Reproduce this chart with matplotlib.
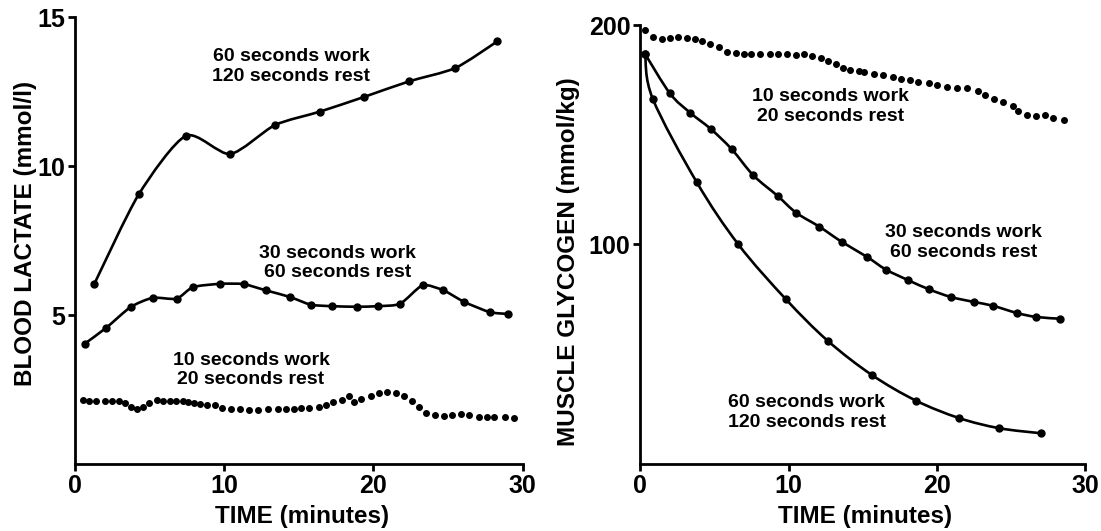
import matplotlib.pyplot as plt
import numpy as np
from matplotlib.path import Path
from matplotlib.patches import PathPatch

plt.rcParams['font.family'] = ['Liberation Sans', 'DejaVu Sans']
plt.rcParams['font.weight'] = 'bold'

# ---- blood lactate (mmol/l) ----
lac60_t = [1.29, 4.27, 7.44, 10.4, 13.4, 16.4, 19.4, 22.4, 25.5, 28.3]
lac60_v = [6.04, 9.05, 11.02, 10.41, 11.38, 11.83, 12.33, 12.85, 13.3, 14.19]

lac30_t = [0.66, 2.11, 3.73, 5.21, 6.81, 7.91, 9.74, 11.3, 12.8, 14.4,
           15.8, 17.2, 18.9, 20.3, 21.8, 23.3, 24.7, 26.1, 27.8, 29.0]
lac30_v = [4.04, 4.58, 5.27, 5.58, 5.55, 5.94, 6.05, 6.04, 5.83, 5.61,
           5.35, 5.30, 5.28, 5.30, 5.38, 6.00, 5.83, 5.44, 5.10, 5.04]

lac10_t = [0.57, 0.94, 1.39, 1.98, 2.47, 2.94, 3.34, 3.74, 4.16, 4.58,
           4.98, 5.50, 5.92, 6.35, 6.75, 7.22, 7.57, 7.97, 8.39, 8.86,
           9.38, 9.85, 10.46, 11.04, 11.68, 12.27, 12.92, 13.63, 14.14, 14.69,
           15.16, 15.67, 16.33, 16.85, 17.32, 17.90, 18.37, 18.73, 19.20, 19.85,
           20.37, 20.91, 21.50, 22.08, 22.60, 23.07, 23.54, 24.13, 24.72, 25.30,
           25.89, 26.43, 27.06, 27.60, 28.12, 28.83, 29.41]
lac10_v = [2.15, 2.13, 2.11, 2.11, 2.13, 2.13, 2.05, 1.91, 1.85, 1.93,
           2.05, 2.15, 2.13, 2.11, 2.11, 2.10, 2.08, 2.05, 2.02, 1.99,
           1.97, 1.89, 1.85, 1.83, 1.82, 1.80, 1.83, 1.85, 1.85, 1.85,
           1.87, 1.89, 1.92, 1.98, 2.07, 2.15, 2.27, 2.09, 2.17, 2.28,
           2.39, 2.41, 2.38, 2.27, 2.11, 1.91, 1.71, 1.63, 1.62, 1.64,
           1.69, 1.63, 1.58, 1.57, 1.57, 1.59, 1.55]

# ---- muscle glycogen (mmol/kg) ----
gly60_t = [0.32, 0.83, 3.8, 6.61, 9.82, 12.62, 15.62, 18.6, 21.5, 24.2, 27.0]
gly60_v = [186.8, 166.5, 128.4, 100.0, 75.0, 56.2, 40.5, 28.8, 20.9, 16.3, 14.0]

gly30_t = [0.32, 2.0, 3.35, 4.77, 6.16, 7.62, 9.26, 10.5, 12.07, 13.58,
           15.27, 16.55, 18.07, 19.49, 20.93, 22.5, 23.76, 25.38, 26.68, 28.26]
gly30_v = [186.8, 168.8, 160.1, 152.5, 143.4, 131.5, 122.1, 114.5, 108.1, 101.2,
           94.4, 88.6, 83.7, 79.5, 76.1, 73.8, 72.1, 68.8, 67.0, 66.2]

gly10_t = [0.32, 0.88, 1.49, 2.0, 2.57, 3.13, 3.69, 4.14, 4.70, 5.33,
           5.82, 6.45, 6.99, 7.44, 8.07, 8.75, 9.31, 9.91, 10.5, 11.04,
           11.56, 12.16, 12.63, 13.2, 13.69, 14.14, 14.71, 15.08, 15.76, 16.39,
           17.0, 17.56, 18.19, 18.75, 19.43, 20.03, 20.66, 21.34, 22.05, 22.73,
           23.24, 23.81, 24.44, 25.11, 25.49, 26.06, 26.68, 27.3, 27.85, 28.57]
gly10_v = [197.7, 194.7, 193.6, 194.1, 194.7, 194.1, 193.4, 192.9, 191.4, 189.9,
           187.9, 187.2, 186.9, 186.9, 186.9, 186.9, 186.6, 186.6, 186.4, 186.6,
           186.1, 184.9, 183.6, 182.1, 180.4, 179.3, 178.9, 178.4, 177.9, 177.2,
           176.4, 175.6, 174.9, 174.1, 173.5, 172.7, 171.9, 171.5, 171.2, 170.1,
           168.0, 166.2, 164.7, 163.2, 160.9, 159.0, 158.6, 159.0, 157.8, 156.7]


def smooth_curve(ax, t, v, k=6.0):
    # bezier path through the points (catmull-rom style control points)
    pts = np.column_stack([t, v])
    n = len(pts)
    verts = [pts[0]]
    codes = [Path.MOVETO]
    for i in range(n - 1):
        p0 = pts[i - 1] if i > 0 else pts[i]
        p1, p2 = pts[i], pts[i + 1]
        p3 = pts[i + 2] if i + 2 < n else pts[i + 1]
        verts += [p1 + (p2 - p0) / k, p2 - (p3 - p1) / k, p2]
        codes += [Path.CURVE4] * 3
    ax.add_patch(PathPatch(Path(verts, codes), fill=False, lw=1.9,
                           ec='black', capstyle='round', clip_on=False))
    ax.plot(t, v, 'o', color='black', ms=5, clip_on=False)


def style_axes(ax):
    for s in ['top', 'right']:
        ax.spines[s].set_visible(False)
    for s in ['left', 'bottom']:
        ax.spines[s].set_linewidth(2)
    ax.tick_params(length=5, width=2, pad=2, labelsize=18, colors='black')
    ax.set_xlim(0, 30)
    ax.set_xticks([0, 10, 20, 30])
    for lab in ax.get_xticklabels() + ax.get_yticklabels():
        lab.set_fontweight('bold')


note = dict(fontsize=14, fontweight='bold', linespacing=1.2, va='center')

fig = plt.figure(figsize=(11.01, 5.31), dpi=100)

ax1 = fig.add_axes([0.0681, 0.1262, 0.4065, 0.8412])
smooth_curve(ax1, lac60_t, lac60_v, k=8.0)
smooth_curve(ax1, lac30_t, lac30_v, k=9.0)
ax1.plot(lac10_t, lac10_v, 'o', color='black', ms=4, clip_on=False)
ax1.set_ylim(0, 15)
ax1.set_yticks([5, 10, 15])
style_axes(ax1)
ax1.set_xlabel('TIME (minutes)', fontsize=17.5, fontweight='bold', va='center')
ax1.xaxis.set_label_coords(0.507, -0.117)
ax1.set_ylabel('BLOOD LACTATE (mmol/l)', fontsize=17.5, fontweight='bold', va='center')
ax1.yaxis.set_label_coords(-0.11, 0.517)
ax1.text(14.5, 13.35, '60 seconds work\n120 seconds rest', ha='center', **note)
ax1.text(17.6, 6.75, '30 seconds work\n60 seconds rest', ha='center', **note)
ax1.text(11.8, 3.15, '10 seconds work\n20 seconds rest', ha='center', **note)

ax2 = fig.add_axes([0.5816, 0.1262, 0.4042, 0.8267])
smooth_curve(ax2, gly60_t, gly60_v)
smooth_curve(ax2, gly30_t, gly30_v)
ax2.plot(gly10_t, gly10_v, 'o', color='black', ms=4, clip_on=False)
ax2.set_ylim(0, 200)
ax2.set_yticks([100, 200])
style_axes(ax2)
ax2.set_xlabel('TIME (minutes)', fontsize=17.5, fontweight='bold', va='center')
ax2.xaxis.set_label_coords(0.506, -0.12)
ax2.set_ylabel('MUSCLE GLYCOGEN (mmol/kg)', fontsize=17.5, fontweight='bold', va='center')
ax2.yaxis.set_label_coords(-0.162, 0.46)
ax2.text(12.8, 162.8, '10 seconds work\n20 seconds rest', ha='center', **note)
ax2.text(21.8, 101, '30 seconds work\n60 seconds rest', ha='center', **note)
ax2.text(5.9, 23.5, '60 seconds work\n120 seconds rest', ha='left', **note)

fig.savefig('out.png', dpi=100, facecolor='white')
